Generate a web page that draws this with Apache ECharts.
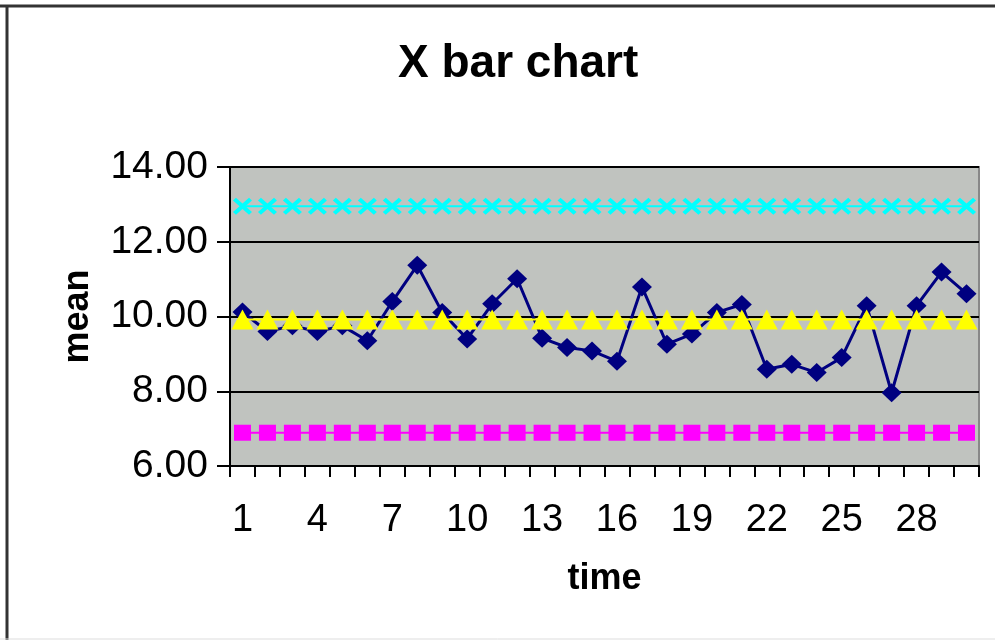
<!DOCTYPE html>
<html>
<head>
<meta charset="utf-8">
<script src="https://cdn.jsdelivr.net/npm/echarts@6/dist/echarts.min.js"></script>
<style>
html,body{margin:0;padding:0;background:#fff;}
#chart{width:995px;height:640px;}
</style>
</head>
<body>
<div id="chart"></div>
<script>
const categories = ['1','2','3','4','5','6','7','8','9','10','11','12','13','14','15','16','17','18','19','20','21','22','23','24','25','26','27','28','29','30'];
const means = [10.12, 9.6, 9.75, 9.6, 9.75, 9.35, 10.4, 11.37, 10.11, 9.4, 10.34, 11.01, 9.42, 9.17, 9.08, 8.8, 10.79, 9.26, 9.53, 10.11, 10.32, 8.59, 8.72, 8.5, 8.9, 10.29, 7.96, 10.29, 11.19, 10.61];
const uclValue = 12.95;
const clValue = 9.92;
const lclValue = 6.89;
const ucl = categories.map(() => uclValue);
const cl = categories.map(() => clValue);
const lcl = categories.map(() => lclValue);
const yTicks = [6, 8, 10, 12, 14];

const xPath = 'path://M2.5,0 L8,5.5 L13.5,0 L16,2.5 L10.5,8 L16,13.5 L13.5,16 L8,10.5 L2.5,16 L0,13.5 L5.5,8 L0,2.5 Z';

const chart = echarts.init(document.getElementById('chart'), null, {renderer: 'canvas'});
const FONT = 'Liberation Sans, Arial, sans-serif';
chart.setOption({
  animation: false,
  backgroundColor: '#ffffff',
  title: {
    text: 'X bar chart',
    left: 393,
    top: 36,
    textStyle: {fontFamily: FONT, fontSize: 46, fontWeight: 'bold', color: '#000'}
  },
  graphic: [
    {type: 'line', shape: {x1: 0, y1: 6, x2: 995, y2: 6}, style: {stroke: '#333', lineWidth: 3}},
    {type: 'line', shape: {x1: 7, y1: 6, x2: 7, y2: 640}, style: {stroke: '#333', lineWidth: 3}},
    {type: 'line', shape: {x1: 0, y1: 639, x2: 995, y2: 639}, style: {stroke: '#ddd', lineWidth: 1}}
  ],
  grid: {
    left: 230, right: 16, top: 167, bottom: 174,
    show: true,
    backgroundColor: '#C0C3BF',
    borderColor: '#888',
    borderWidth: 2
  },
  xAxis: {
    type: 'category',
    data: categories,
    boundaryGap: true,
    name: 'time',
    nameLocation: 'middle',
    nameGap: 95,
    nameTextStyle: {fontFamily: FONT, fontSize: 36, fontWeight: 'bold', color: '#000'},
    axisLine: {lineStyle: {color: '#000', width: 2}},
    axisTick: {show: true, interval: 0, length: 11, lineStyle: {color: '#000', width: 2}},
    axisLabel: {interval: 2, margin: 36, fontFamily: FONT, fontSize: 38, color: '#000'},
    splitLine: {show: false}
  },
  yAxis: {
    type: 'value',
    min: yTicks[0],
    max: yTicks[yTicks.length - 1],
    interval: 2,
    name: 'mean',
    nameLocation: 'middle',
    nameGap: 134,
    nameTextStyle: {fontFamily: FONT, fontSize: 36, fontWeight: 'bold', color: '#000'},
    axisLine: {show: true, lineStyle: {color: '#000', width: 2}},
    axisTick: {show: true, length: 13, lineStyle: {color: '#000', width: 2}},
    axisLabel: {margin: 22, fontFamily: FONT, fontSize: 39, color: '#000', formatter: v => v.toFixed(2)},
    splitLine: {show: true, lineStyle: {color: '#000', width: 2}}
  },
  series: [
    {
      name: 'mean', type: 'line', data: means,
      symbol: 'diamond', symbolSize: [20, 19], showAllSymbol: true,
      lineStyle: {color: '#000080', width: 3},
      itemStyle: {color: '#000080'},
      z: 2
    },
    {
      name: 'UCL', type: 'line', data: ucl,
      symbol: xPath, symbolSize: [19, 17], showAllSymbol: true,
      lineStyle: {color: '#00FFFF', width: 2},
      itemStyle: {color: '#00FFFF'},
      z: 3
    },
    {
      name: 'CL', type: 'line', data: cl,
      symbol: 'triangle', symbolSize: [22, 20], showAllSymbol: true,
      lineStyle: {color: '#FFFF00', width: 2},
      itemStyle: {color: '#FFFF00'},
      z: 3
    },
    {
      name: 'LCL', type: 'line', data: lcl,
      symbol: 'rect', symbolSize: [17, 16], showAllSymbol: true,
      lineStyle: {color: '#FF00FF', width: 2},
      itemStyle: {color: '#FF00FF'},
      z: 3
    }
  ]
});
</script>
</body>
</html>
